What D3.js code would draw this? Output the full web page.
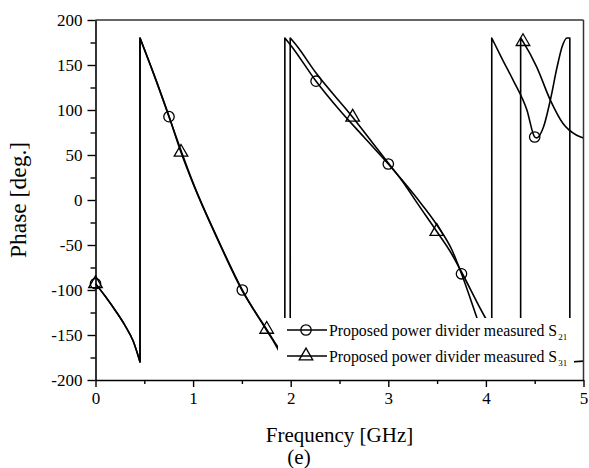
<!DOCTYPE html>
<html>
<head>
<meta charset="utf-8">
<style>
    body { margin: 0; background: #fff; }
    svg text { font-family: "Liberation Serif", "Times New Roman", serif; fill: #000; }
</style>
</head>
<body>
<svg class="chart"></svg>
<script src="https://cdnjs.cloudflare.com/ajax/libs/d3/7.8.5/d3.min.js"></script>
<script>
    // frequency [GHz], phase [deg.] -- a repeated x is the wrap from -180 to +180
    var s21 = [
        [0, -93], [0.1, -107], [0.217, -125], [0.3, -139], [0.387, -157], [0.456, -180],
        [0.456, 180], [0.6, 139], [0.753, 92.6], [0.876, 55], [1.0, 19], [1.26, -45],
        [1.504, -100], [1.754, -145], [1.84, -160], [1.94, -180],
        [1.94, 180], [2.0, 172], [2.26, 132], [2.5, 100], [2.75, 70], [3.0, 40], [3.15, 21],
        [3.3, 1], [3.5, -28], [3.65, -55], [3.75, -82], [3.905, -130], [4.0, -160], [4.06, -180],
        [4.06, 180], [4.17, 156], [4.28, 133], [4.42, 100], [4.5, 70], [4.52, 69], [4.59, 81],
        [4.66, 111], [4.73, 148], [4.78, 170], [4.83, 180], [4.86, 180],
        [4.86, -180], [5.0, -179]
    ];
    var s31 = [
        [0, -93], [0.1, -107], [0.217, -125], [0.3, -139], [0.387, -157], [0.456, -180],
        [0.456, 180], [0.6, 139], [0.753, 93], [0.876, 53], [1.0, 18], [1.26, -46],
        [1.504, -101], [1.754, -143.7], [1.86, -162], [1.995, -180],
        [1.995, 180], [2.05, 173], [2.26, 141], [2.635, 92], [2.85, 62], [3.0, 41], [3.15, 20],
        [3.3, -4], [3.497, -35], [3.65, -60], [3.75, -80], [3.99, -130], [4.15, -158], [4.356, -180],
        [4.356, 180], [4.38, 176], [4.52, 148], [4.66, 111], [4.79, 85], [4.93, 72], [5.0, 69]
    ];

    // marker positions
    var s21Markers = [[0, -93], [0.753, 92.6], [1.504, -100], [2.26, 132], [3.0, 40], [3.75, -82], [4.5, 70]];
    var s31Markers = [[0, -93], [0.876, 53], [1.754, -143.7], [2.635, 92], [3.497, -35], [4.38, 176]];

    var xTicks = [0, 1, 2, 3, 4, 5],
        xMinor = [0.5, 1.5, 2.5, 3.5, 4.5],
        yTicks = [-200, -150, -100, -50, 0, 50, 100, 150, 200],
        yMinor = [-175, -125, -75, -25, 25, 75, 125, 175];

    var legendNames = ["Proposed power divider measured S", "Proposed power divider measured S"],
        legendSubs = ["21", "31"];

    var width = 589,
        height = 468,
        plotLeft = 95.5,
        plotRight = 583.5,
        plotTop = 20,
        plotBottom = 380;

    var x = d3.scaleLinear().domain([0, 5]).range([plotLeft, plotRight]);
    var y = d3.scaleLinear().domain([-200, 200]).range([plotBottom, plotTop]);

    var svg = d3.select('.chart')
        .attr("width", width)
        .attr("height", height);

    svg.append("clipPath").attr("id", "plot")
        .append("rect")
        .attr("x", plotLeft).attr("y", plotTop)
        .attr("width", plotRight - plotLeft).attr("height", plotBottom - plotTop);

    var line = d3.line()
        .x(function (d) { return x(d[0]); })
        .y(function (d) { return y(d[1]); })
        .curve(d3.curveMonotoneX);

    // cut a series at its wraps, smooth each piece, join them with straight jumps
    function wrappedPath(s) {
        var pieces = [], cur = [s[0]];
        for (var i = 1; i < s.length; i++) {
            if (s[i][0] === s[i - 1][0]) { pieces.push(cur); cur = []; }
            cur.push(s[i]);
        }
        pieces.push(cur);
        return pieces.map(function (p, k) {
            var d = line(p);
            return k === 0 ? d : "L" + d.slice(1);
        }).join("");
    }

    var curves = svg.append("g").attr("clip-path", "url(#plot)");

    [s21, s31].forEach(function (s) {
        curves.append("path")
            .attr("d", wrappedPath(s))
            .attr("fill", "none")
            .attr("stroke", "#000")
            .attr("stroke-width", 1.6)
            .attr("stroke-linejoin", "round");
    });

    var circle = d3.symbol().type(d3.symbolCircle).size(85);
    var triangle = d3.symbol().type(d3.symbolTriangle).size(80);

    svg.selectAll(".m21")
        .data(s21Markers)
        .enter()
        .append("path")
        .attr("class", "m21")
        .attr("d", circle)
        .attr("transform", function (d) { return "translate(" + x(d[0]) + "," + y(d[1]) + ")"; })
        .attr("fill", "none").attr("stroke", "#000").attr("stroke-width", 1.3);

    svg.selectAll(".m31")
        .data(s31Markers)
        .enter()
        .append("path")
        .attr("class", "m31")
        .attr("d", triangle)
        .attr("transform", function (d) { return "translate(" + x(d[0]) + "," + y(d[1]) + ")"; })
        .attr("fill", "none").attr("stroke", "#000").attr("stroke-width", 1.3);

    // legend (white box over the curves)
    var legend = svg.append("g");
    legend.append("rect")
        .attr("x", 278).attr("y", 318)
        .attr("width", 296).attr("height", 58)
        .attr("fill", "#fff");

    var shapes = [circle, triangle];
    legendNames.forEach(function (name, i) {
        var ly = 330 + i * 26;
        legend.append("line")
            .attr("x1", 287).attr("x2", 327)
            .attr("y1", ly).attr("y2", ly)
            .attr("stroke", "#000").attr("stroke-width", 1.6);
        legend.append("path")
            .attr("d", shapes[i])
            .attr("transform", "translate(306," + ly + ")")
            .attr("fill", "none").attr("stroke", "#000").attr("stroke-width", 1.3);
        var t = legend.append("text")
            .attr("x", 329).attr("y", ly + 5.5)
            .style("font-size", "15.8px")
            .text(name);
        t.append("tspan")
            .style("font-size", "9px")
            .attr("dy", 4)
            .attr("dx", 1)
            .text(legendSubs[i]);
    });

    // frame: top and right
    svg.append("line")
        .attr("x1", plotLeft).attr("x2", plotRight)
        .attr("y1", plotTop).attr("y2", plotTop)
        .attr("stroke", "#333").attr("stroke-width", 1.5);
    svg.append("line")
        .attr("x1", plotRight).attr("x2", plotRight)
        .attr("y1", plotTop).attr("y2", plotBottom)
        .attr("stroke", "#333").attr("stroke-width", 1.5);

    var xAxis = d3.axisBottom(x).tickValues(xTicks).tickSize(7).tickSizeOuter(0)
        .tickFormat(d3.format("d"));
    var xAxisMinor = d3.axisBottom(x).tickValues(xMinor).tickSize(4).tickFormat("");
    var yAxis = d3.axisLeft(y).tickValues(yTicks).tickSize(8).tickSizeOuter(0)
        .tickFormat(function (d) { return d; });
    var yAxisMinor = d3.axisLeft(y).tickValues(yMinor).tickSize(5).tickFormat("");

    function styleAxis(g) {
        g.attr("font-family", null).attr("font-size", null);
        g.select(".domain").attr("stroke", "#000").attr("stroke-width", 1.6);
        g.selectAll(".tick line").attr("stroke", "#000").attr("stroke-width", 1.4);
        g.selectAll("text")
            .style("font-family", '"Liberation Serif", "Times New Roman", serif')
            .style("font-size", "17px")
            .attr("fill", "#000");
    }

    svg.append('g')
        .attr("transform", "translate(0," + plotBottom + ")")
        .attr('class', 'x axis')
        .call(xAxis)
        .call(styleAxis)
        .selectAll("text").attr("dy", "0.95em").attr("y", 8);
    svg.append('g')
        .attr("transform", "translate(0," + plotBottom + ")")
        .call(xAxisMinor)
        .call(styleAxis)
        .select(".domain").remove();

    svg.append('g')
        .attr("transform", "translate(" + plotLeft + ",0)")
        .attr('class', 'y axis')
        .call(yAxis)
        .call(styleAxis)
        .selectAll("text").attr("x", -13);
    svg.append('g')
        .attr("transform", "translate(" + plotLeft + ",0)")
        .call(yAxisMinor)
        .call(styleAxis)
        .select(".domain").remove();

    // titles
    svg.append("text")
        .attr("x", (plotLeft + plotRight) / 2).attr("y", 442)
        .attr("text-anchor", "middle")
        .style("font-size", "21px")
        .text("Frequency [GHz]");
    svg.append("text")
        .attr("x", 299).attr("y", 464)
        .attr("text-anchor", "middle")
        .style("font-size", "21px")
        .text("(e)");
    svg.append("text")
        .attr("transform", "translate(26," + (plotTop + plotBottom) / 2 + ") rotate(-90)")
        .attr("text-anchor", "middle")
        .style("font-size", "23.5px")
        .text("Phase [deg.]");
</script>
</body>
</html>
